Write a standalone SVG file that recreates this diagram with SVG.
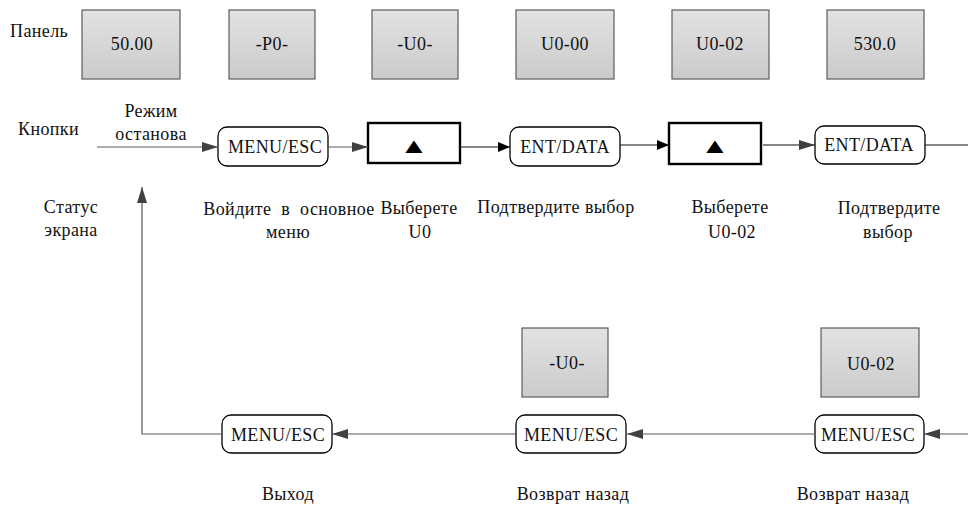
<svg xmlns="http://www.w3.org/2000/svg" width="968" height="507" viewBox="0 0 968 507" font-family="'Liberation Serif', 'DejaVu Serif', serif" font-size="18">
<defs>
<linearGradient id="pg" x1="0" y1="0" x2="0" y2="1">
<stop offset="0" stop-color="#e2e2e2"/>
<stop offset="1" stop-color="#cbcbcb"/>
</linearGradient>
<marker id="ag" markerWidth="16" markerHeight="10" refX="16" refY="5" orient="auto" markerUnits="userSpaceOnUse">
<path d="M0,0 L16,5 L0,10 Z" fill="#404040"/>
</marker>
<marker id="ab" markerWidth="12" markerHeight="10" refX="12" refY="5" orient="auto" markerUnits="userSpaceOnUse">
<path d="M0,0 L12,5 L0,10 Z" fill="#000"/>
</marker>
</defs>
<style>
text{fill:#111;letter-spacing:0.4px;}
.c{text-anchor:middle;}
.panel{fill:url(#pg);stroke:#5c5c5c;stroke-width:1.2;}
.key{fill:#fff;stroke:#000;stroke-width:1.3;}
.up{fill:#fff;stroke:#000;stroke-width:2.4;}
.tri{text-anchor:middle;fill:#000;letter-spacing:0;}
.lg{fill:none;stroke:#5a5a5a;stroke-width:1.2;}
.lb{fill:none;stroke:#111;stroke-width:1.2;}
</style>

<g id="labels">
<text x="10" y="37">Панель</text>
<text x="18" y="135">Кнопки</text>
<text class="c" x="151" y="117">Режим</text>
<text class="c" x="151" y="140">останова</text>
<text class="c" x="71" y="213">Статус</text>
<text class="c" x="71" y="236">экрана</text>
</g>

<g id="panel1"><rect class="panel" x="82" y="10" width="98" height="69"/><text class="c" x="132" y="50">50.00</text></g>
<g id="panel2"><rect class="panel" x="229" y="10" width="86" height="69"/><text class="c" x="272" y="50">-P0-</text></g>
<g id="panel3"><rect class="panel" x="372" y="10" width="86" height="69"/><text class="c" x="415" y="50">-U0-</text></g>
<g id="panel4"><rect class="panel" x="516" y="10" width="98" height="69"/><text class="c" x="565" y="50">U0-00</text></g>
<g id="panel5"><rect class="panel" x="672" y="10" width="97" height="69"/><text class="c" x="720" y="50">U0-02</text></g>
<g id="panel6"><rect class="panel" x="827" y="10" width="97" height="69"/><text class="c" x="875" y="50">530.0</text></g>
<g id="panel7"><rect class="panel" x="522" y="328" width="86" height="69"/><text class="c" x="567" y="369">-U0-</text></g>
<g id="panel8"><rect class="panel" x="821" y="328" width="98" height="69"/><text class="c" x="871" y="370">U0-02</text></g>

<g id="key1"><rect class="key" x="218" y="127" width="110" height="39" rx="9"/><text class="c" x="275" y="153">MENU/ESC</text>
<text class="c" x="289" y="215" word-spacing="5">Войдите в основное</text><text class="c" x="288" y="238">меню</text></g>
<g id="key2"><rect class="up" x="368" y="123" width="92" height="40"/><text class="tri" transform="translate(414,151) scale(1.25,0.9)" font-family="'DejaVu Sans', sans-serif">▲</text>
<text class="c" x="419" y="214">Выберете</text><text class="c" x="420" y="238">U0</text></g>
<g id="key3"><rect class="key" x="510" y="127" width="110" height="39" rx="9"/><text class="c" x="565" y="153">ENT/DATA</text>
<text class="c" x="556" y="213">Подтвердите выбор</text></g>
<g id="key4"><rect class="up" x="669" y="123" width="92" height="41"/><text class="tri" transform="translate(715,151) scale(1.25,0.9)" font-family="'DejaVu Sans', sans-serif">▲</text>
<text class="c" x="730" y="213">Выберете</text><text class="c" x="732" y="238">U0-02</text></g>
<g id="key5"><rect class="key" x="815" y="126" width="110" height="38" rx="9"/><text class="c" x="869" y="151">ENT/DATA</text>
<text class="c" x="889" y="214">Подтвердите</text><text class="c" x="888" y="238">выбор</text></g>

<g id="key6"><rect class="key" x="222" y="415" width="110" height="38" rx="9"/><text class="c" x="278" y="441">MENU/ESC</text>
<text class="c" x="288" y="500">Выход</text></g>
<g id="key7"><rect class="key" x="516" y="415" width="110" height="38" rx="9"/><text class="c" x="571" y="441">MENU/ESC</text>
<text class="c" x="573" y="500">Возврат назад</text></g>
<g id="key8"><rect class="key" x="815" y="415" width="109" height="38" rx="9"/><text class="c" x="868" y="441">MENU/ESC</text>
<text class="c" x="853" y="500">Возврат назад</text></g>

<g id="connectors">
<line class="lg" x1="97" y1="147" x2="218" y2="147" marker-end="url(#ag)"/>
<line class="lg" x1="328" y1="147" x2="368" y2="147" marker-end="url(#ag)"/>
<line class="lb" x1="460" y1="147" x2="510" y2="147" marker-end="url(#ab)"/>
<line class="lb" x1="620" y1="145" x2="669" y2="145" marker-end="url(#ab)"/>
<line class="lb" x1="763" y1="145" x2="815" y2="145" marker-end="url(#ag)"/>
<line class="lb" x1="925" y1="145" x2="968" y2="145"/>
<line class="lg" x1="968" y1="434" x2="924" y2="434" marker-end="url(#ag)"/>
<line class="lg" x1="815" y1="434" x2="627" y2="434" marker-end="url(#ag)"/>
<line class="lg" x1="516" y1="434" x2="332" y2="434" marker-end="url(#ag)"/>
<polyline class="lg" points="222,434 142,434 142,187" marker-end="url(#ag)"/>
</g>
</svg>
